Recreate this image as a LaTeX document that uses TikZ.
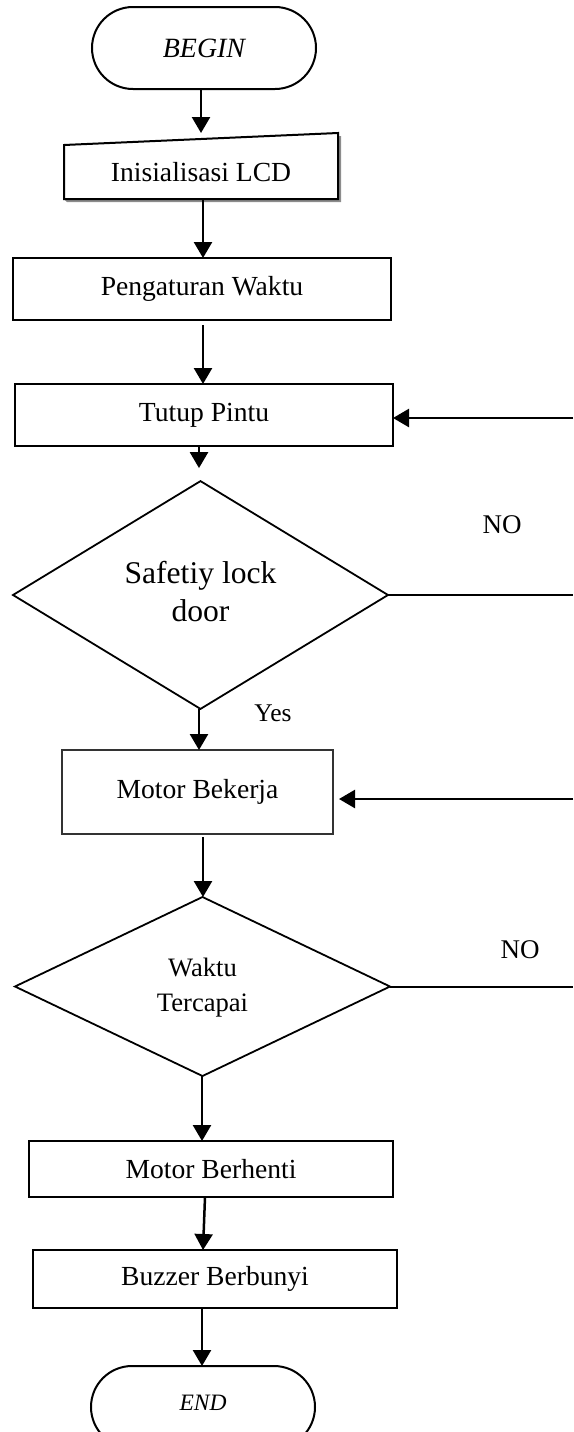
\documentclass[tikz,border=0pt]{standalone}
\usepackage{fontspec}
\setmainfont{Liberation Serif}
\usetikzlibrary{shapes.geometric,arrows.meta,calc}
\begin{document}
\begin{tikzpicture}[x=1pt,y=-1pt,
  every node/.style={inner sep=0pt, outer sep=0pt},
  txt/.style={font=\fontsize{27.6}{33}\selectfont},
  boxnode/.style={draw, line width=2pt, rectangle, txt},
  thinbox/.style={draw=black!80, line width=1.1pt, rectangle, txt},
  term/.style={draw, line width=2pt, rectangle, rounded corners=41pt, minimum width=224pt, minimum height=82pt},
  decide/.style={draw, line width=1.8pt, diamond, align=center},
  flow/.style={line width=2.5pt, -{Triangle[width=18pt,length=16pt]}},
  plain/.style={line width=2pt},
  lbl/.style={font=\fontsize{27}{32}\selectfont}
]
\useasboundingbox (0,0) rectangle (573,1432);
\clip (0,0) rectangle (573,1432);

% terminals
\node[term, font=\fontsize{27.9}{33}\selectfont\itshape] (begin) at (204,48) {BEGIN};
\node[term, font=\fontsize{23.5}{28}\selectfont\itshape] (end) at (203,1407) {\raisebox{8pt}{END}};

% manual input
\node[minimum width=274pt, minimum height=66pt] (lcd) at (201,166) {};
\fill[black!45] ($(lcd.south west)+(3,3)$) -- ($(lcd.south east)+(3,3)$) -- ($(lcd.north east)+(3,3)$) -- ($(lcd.north east)+(0,3)$) -- (lcd.south east) -- (lcd.south west) -- cycle;
\draw[line width=2pt, fill=white] (lcd.south west) -- (lcd.south east) -- (lcd.north east) -- ($(lcd.north west)+(0,12)$) -- cycle;
\node[txt] (lcdtxt) at (201,172) {Inisialisasi LCD};

% processes
\node[boxnode, minimum width=378pt, minimum height=62pt] (peng) at (202,289) {Pengaturan Waktu};
\node[boxnode, minimum width=378pt, minimum height=62pt] (tutup) at (204,415) {Tutup Pintu};
\node[thinbox, minimum width=271pt, minimum height=84pt] (motor) at (197.5,792) {Motor Bekerja};
\node[boxnode, minimum width=364pt, minimum height=56pt] (henti) at (211,1169) {Motor Berhenti};
\node[boxnode, minimum width=364pt, minimum height=58pt] (buzz) at (215,1279) {Buzzer Berbunyi};

% decisions
\node[decide, minimum width=375pt, minimum height=196pt, font=\fontsize{31.6}{38}\selectfont] (d1) at (200.5,595)
  {\raisebox{6pt}{\begin{tabular}{@{}c@{}}Safetiy lock\\door\end{tabular}}};
\node[decide, minimum width=375pt, minimum height=179pt, font=\fontsize{26.6}{35}\selectfont] (d2) at (202.5,986.5)
  {\raisebox{6pt}{\begin{tabular}{@{}c@{}}Waktu\\Tercapai\end{tabular}}};

% labels
\node[lbl] (no1) at (502,525) {NO};
\node[lbl] (no2) at (520,950) {NO};
\node[lbl, font=\fontsize{25.5}{30}\selectfont] (yes) at (273,713) {Yes};

% right edge coordinates
\coordinate (r1) at (573,418);
\coordinate (r3) at (573,799);

% vertical flow
\draw[flow] (begin.south -| 201,0) -- (lcd.north -| 201,0);
\draw[flow] (lcd.south -| 203,0) -- (peng.north -| 203,0);
\draw[flow, shorten <=5pt] (peng.south -| 203,0) -- (tutup.north -| 203,0);
\draw[flow, shorten >=13pt] (tutup.south -| 199,0) -- (d1.north -| 199,0);
\draw[flow] (d1.south -| 199,0) -- (motor.north -| 199,0);
\draw[flow, shorten <=3pt] (motor.south -| 203,0) -- (d2.north -| 203,0);
\draw[flow] (d2.south -| 202,0) -- (henti.north -| 202,0);
\draw[flow] (henti.south -| 205,0) -- (buzz.north -| 203,0);
\draw[flow] (buzz.south -| 202,0) -- (end.north -| 202,0);

% loops from right
\draw[flow] (r1) -- (r1 -| tutup.east);
\draw[plain] (d1.east) -- (d1.east -| 573,0);
\draw[flow, shorten >=6pt] (r3) -- (r3 -| motor.east);
\draw[plain] (d2.east) -- (d2.east -| 573,0);
\end{tikzpicture}
\end{document}
